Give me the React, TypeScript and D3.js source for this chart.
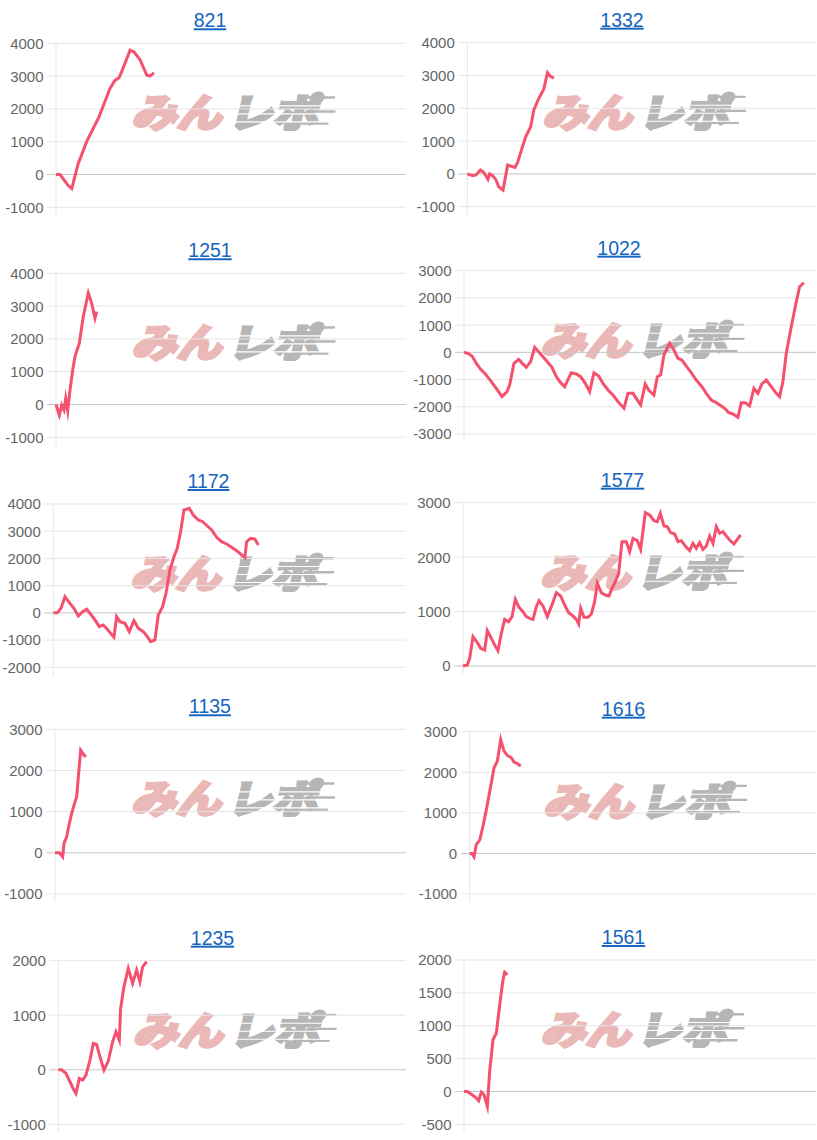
import React from "react";
import * as d3 from "d3";

// Machine numbers (panel titles)
const TITLES = ["821", "1332", "1251", "1022", "1172", "1577", "1135", "1616", "1235", "1561"];

// Series: [games, medal difference]
const S821: [number, number][] = [
  [0, 0], [140, 0], [420, -336], [540, -430], [760, 327], [1050, 1000], [1470, 1750], [1850, 2620],
  [2020, 2870], [2160, 2950], [2250, 3130], [2540, 3790], [2670, 3740], [2880, 3500], [3110, 3030],
  [3220, 3000], [3360, 3100],
];
const S1332: [number, number][] = [
  [0, 0], [190, -55], [300, -30], [450, 120], [570, 40], [710, -165], [770, 0], [880, -60], [990, -185],
  [1080, -390], [1230, -490], [1390, 270], [1640, 200], [1730, 340], [1900, 830], [2010, 1130], [2180, 1440],
  [2290, 1950], [2460, 2300], [2630, 2580], [2760, 3085], [2850, 2985], [2980, 2915],
];
const S1251: [number, number][] = [
  [0, 0], [113, -320], [195, -15], [274, -170], [333, 190], [401, -190], [480, 440], [573, 1050], [651, 1460],
  [799, 1870], [936, 2680], [1107, 3400], [1224, 3085], [1337, 2630], [1395, 2830],
];
const S1022: [number, number][] = [
  [0, 0], [136, -37], [273, -135], [420, -404], [568, -624], [727, -796], [932, -1077], [1136, -1383],
  [1295, -1628], [1465, -1444], [1556, -1200], [1704, -404], [1863, -257], [1988, -404], [2124, -551],
  [2272, -343], [2408, 184], [2545, 24], [2692, -159], [2840, -343], [2999, -551], [3147, -894], [3294, -1114],
  [3431, -1261], [3658, -747], [3828, -796], [3976, -894], [4135, -1138], [4283, -1444], [4431, -747],
  [4590, -869], [4737, -1138], [4908, -1383], [5078, -1567], [5249, -1812], [5453, -2056], [5589, -1506],
  [5760, -1506], [5873, -1689], [6021, -1934], [6180, -1163], [6294, -1383], [6475, -1567], [6589, -894],
  [6702, -832], [6816, -98], [7009, 330], [7157, 86], [7293, -220], [7429, -282], [7577, -502], [7748, -747],
  [7918, -1016], [8111, -1261], [8259, -1506], [8429, -1750], [8600, -1848], [8770, -1971], [8884, -2056],
  [9020, -2215], [9168, -2264], [9338, -2387], [9452, -1848], [9588, -1848], [9736, -1971], [9884, -1322],
  [10020, -1506], [10156, -1163], [10304, -1016], [10475, -1261], [10645, -1506], [10759, -1628],
  [10872, -1077], [10986, -37], [11157, 942], [11293, 1677], [11440, 2411], [11588, 2558],
];
const S1172: [number, number][] = [
  [0, 0], [136, 0], [261, 168], [397, 596], [567, 351], [703, 168], [851, -114], [998, 45], [1134, 131],
  [1247, -16], [1418, -261], [1565, -506], [1701, -445], [1837, -604], [1950, -751], [2064, -897], [2155, -139],
  [2268, -322], [2438, -384], [2585, -690], [2744, -285], [2891, -567], [3062, -690], [3198, -873],
  [3311, -1057], [3459, -996], [3572, -77], [3719, 229], [3833, 718], [3969, 1575], [4105, 2065], [4218, 2371],
  [4331, 2983], [4445, 3779], [4627, 3840], [4763, 3595], [4933, 3412], [5080, 3350], [5239, 3191],
  [5387, 3045], [5557, 2775], [5727, 2616], [5897, 2530], [6067, 2408], [6237, 2285], [6373, 2163],
  [6520, 2040], [6577, 2616], [6713, 2738], [6861, 2714], [6974, 2494],
];
const S1577: [number, number][] = [
  [0, 0], [147, 18], [227, 141], [340, 539], [487, 429], [600, 325], [736, 294], [827, 649], [963, 508],
  [1076, 386], [1190, 282], [1303, 600], [1416, 857], [1552, 814], [1666, 906], [1779, 1225], [1904, 1078],
  [2039, 998], [2153, 906], [2266, 876], [2379, 857], [2493, 1090], [2583, 1200], [2719, 1102], [2866, 906],
  [3003, 1090], [3172, 1347], [3320, 1286], [3456, 1121], [3592, 980], [3739, 919], [3852, 857], [3932, 772],
  [4000, 1059], [4113, 894], [4249, 894], [4362, 955], [4475, 1182], [4566, 1519], [4702, 1347], [4838, 1304],
  [4963, 1286], [5065, 1427], [5178, 1549], [5291, 1702], [5405, 2284], [5552, 2284], [5665, 2101],
  [5779, 2345], [5926, 2303], [6039, 2143], [6198, 2817], [6345, 2774], [6492, 2670], [6606, 2652],
  [6708, 2805], [6832, 2572], [6945, 2560], [7058, 2450], [7194, 2425], [7308, 2284], [7421, 2303],
  [7557, 2205], [7704, 2119], [7818, 2254], [7931, 2162], [8044, 2266], [8158, 2143], [8271, 2205],
  [8384, 2388], [8498, 2254], [8611, 2560], [8724, 2437], [8837, 2468], [8951, 2388], [9064, 2315],
  [9211, 2241], [9325, 2327], [9438, 2407],
];
const S1135: [number, number][] = [
  [0, 0], [148, 0], [262, -97], [308, 227], [399, 389], [490, 713], [570, 956], [650, 1158], [741, 1361],
  [798, 1847], [878, 2495], [992, 2373], [1060, 2333],
];
const S1616: [number, number][] = [
  [0, 0], [81, 0], [150, -82], [231, 222], [347, 328], [462, 673], [578, 1084], [728, 1658], [843, 2110],
  [958, 2274], [1074, 2808], [1190, 2520], [1305, 2414], [1444, 2356], [1536, 2250], [1652, 2217], [1767, 2151],
];
const S1235: [number, number][] = [
  [0, 0], [115, 0], [265, -67], [403, -220], [518, -354], [610, -434], [725, -159], [840, -189], [955, -98],
  [1093, 177], [1208, 483], [1323, 464], [1438, 238], [1576, -6], [1725, 159], [1875, 513], [1990, 697],
  [2105, 544], [2151, 1124], [2266, 1521], [2415, 1857], [2565, 1582], [2703, 1827], [2818, 1613],
  [2910, 1888], [3048, 1980],
];
const S1561: [number, number][] = [
  [0, 0], [114, 0], [273, -51], [420, -101], [500, -142], [591, -10], [682, -51], [795, -228], [875, 304],
  [988, 786], [1102, 887], [1216, 1318], [1329, 1698], [1386, 1815], [1477, 1774],
];

const SERIES = [S821, S1332, S1251, S1022, S1172, S1577, S1135, S1616, S1235, S1561];

// Y-axis tick labels per panel
const TICKS_821 = [-1000, 0, 1000, 2000, 3000, 4000];
const TICKS_1332 = [-1000, 0, 1000, 2000, 3000, 4000];
const TICKS_1251 = [-1000, 0, 1000, 2000, 3000, 4000];
const TICKS_1022 = [-3000, -2000, -1000, 0, 1000, 2000, 3000];
const TICKS_1172 = [-2000, -1000, 0, 1000, 2000, 3000, 4000];
const TICKS_1577 = [0, 1000, 2000, 3000];
const TICKS_1135 = [-1000, 0, 1000, 2000, 3000];
const TICKS_1616 = [-1000, 0, 1000, 2000, 3000];
const TICKS_1235 = [-1000, 0, 1000, 2000];
const TICKS_1561 = [-500, 0, 500, 1000, 1500, 2000];
const TICKS = [TICKS_821, TICKS_1332, TICKS_1251, TICKS_1022, TICKS_1172, TICKS_1577, TICKS_1135, TICKS_1616, TICKS_1235, TICKS_1561];

const X_MAX = 12000;

// Layout (plot areas)
const LAYOUT = [
  { left: 56, right: 406, top: 43.3, bottom: 207.3, cx: 210 },
  { left: 467.3, right: 816, top: 42.7, bottom: 206.7, cx: 622 },
  { left: 56, right: 406, top: 273.3, bottom: 437.3, cx: 210 },
  { left: 464, right: 816, top: 270.7, bottom: 434, cx: 619 },
  { left: 53.3, right: 406, top: 504, bottom: 667.3, cx: 208.5 },
  { left: 463, right: 816, top: 502.7, bottom: 666, cx: 622.5 },
  { left: 55, right: 406, top: 729.3, bottom: 894, cx: 210 },
  { left: 469.7, right: 816, top: 731.7, bottom: 894, cx: 623.5 },
  { left: 58.3, right: 406, top: 960.7, bottom: 1124.3, cx: 212.5 },
  { left: 464, right: 816, top: 960, bottom: 1124.3, cx: 623.5 },
];

const FONT = "'Liberation Sans', Arial, Helvetica, sans-serif";
const LINE_COLOR = "#f5506e";
const JP_FONT = "'Noto Sans CJK JP', sans-serif";

function Watermark({ cx, cy }: { cx: number; cy: number }) {
  const stripesGray = [-8, 0, 8];
  const speedLines = [
    { y: -17, x1: 62, x2: 100 },
    { y: -3, x1: 74, x2: 104 },
    { y: 9, x1: 68, x2: 100 },
  ];
  return (
    <g transform={`translate(${cx},${cy})`}>
      <g transform="skewX(-14)">
        <text
          x={-96}
          y={14}
          fontFamily={JP_FONT}
          fontWeight={700}
          fontSize={39}
          fill="#ebb8b8"
          stroke="#ebb8b8"
          strokeWidth={3.6}
          strokeLinejoin="miter"
          textLength={90}
          lengthAdjust="spacingAndGlyphs"
        >
          みん
        </text>
        <text
          x={0}
          y={14}
          fontFamily={JP_FONT}
          fontWeight={700}
          fontSize={39}
          fill="#b6b6b6"
          stroke="#b6b6b6"
          strokeWidth={3.6}
          strokeLinejoin="miter"
          textLength={90}
          lengthAdjust="spacingAndGlyphs"
        >
          レポ
        </text>
        {speedLines.map((s, i) => (
          <rect key={`s${i}`} x={s.x1} y={s.y} width={s.x2 - s.x1} height={2.4} fill="#b6b6b6" />
        ))}
        {stripesGray.map((yy, i) => (
          <rect key={`w${i}`} x={-2} y={yy} width={108} height={1.1} fill="#ffffff" />
        ))}
      </g>
    </g>
  );
}

function Panel({ idx }: { idx: number }) {
  const L = LAYOUT[idx];
  const ticks = TICKS[idx];
  const data = SERIES[idx];
  const x = d3.scaleLinear().domain([0, X_MAX]).range([L.left, L.right]);
  const y = d3
    .scaleLinear()
    .domain([d3.min(ticks) as number, d3.max(ticks) as number])
    .range([L.bottom, L.top]);
  const line = d3
    .line<[number, number]>()
    .x((d) => x(d[0]))
    .y((d) => y(d[1]))
    .curve(d3.curveLinear);
  return (
    <g>
      <text
        x={L.cx}
        y={L.top - 16}
        textAnchor="middle"
        fontFamily={FONT}
        fontSize={19.5}
        fill="#1565c0"
        style={{ textDecoration: "underline" }}
      >
        {TITLES[idx]}
      </text>
      <Watermark cx={(L.left + L.right) / 2} cy={L.top + 70} />
      {ticks.map((t) => (
        <g key={t}>
          <line
            x1={L.left - 9}
            x2={L.right}
            y1={y(t)}
            y2={y(t)}
            stroke={t === 0 ? "#c6c6c6" : "#e6e6e6"}
            strokeWidth={1}
          />
          <text
            x={L.left - 12.5}
            y={y(t)}
            dy="0.36em"
            textAnchor="end"
            fontFamily={FONT}
            fontSize={15}
            fill="#666666"
          >
            {t}
          </text>
        </g>
      ))}
      <line x1={L.left} x2={L.left} y1={L.top} y2={L.bottom + 8} stroke="#e6e6e6" strokeWidth={1} />
      <path
        d={line(data) || ""}
        fill="none"
        stroke={LINE_COLOR}
        strokeWidth={3}
        strokeLinejoin="miter"
        strokeMiterlimit={10}
      />
    </g>
  );
}

export default function App() {
  return (
    <svg
      width={817}
      height={1140}
      viewBox="0 0 817 1140"
      style={{ position: "absolute", left: 0, top: 0, background: "#ffffff" }}
    >
      <rect x={0} y={0} width={817} height={1140} fill="#ffffff" />
      {TITLES.map((_, i) => (
        <Panel key={i} idx={i} />
      ))}
    </svg>
  );
}
